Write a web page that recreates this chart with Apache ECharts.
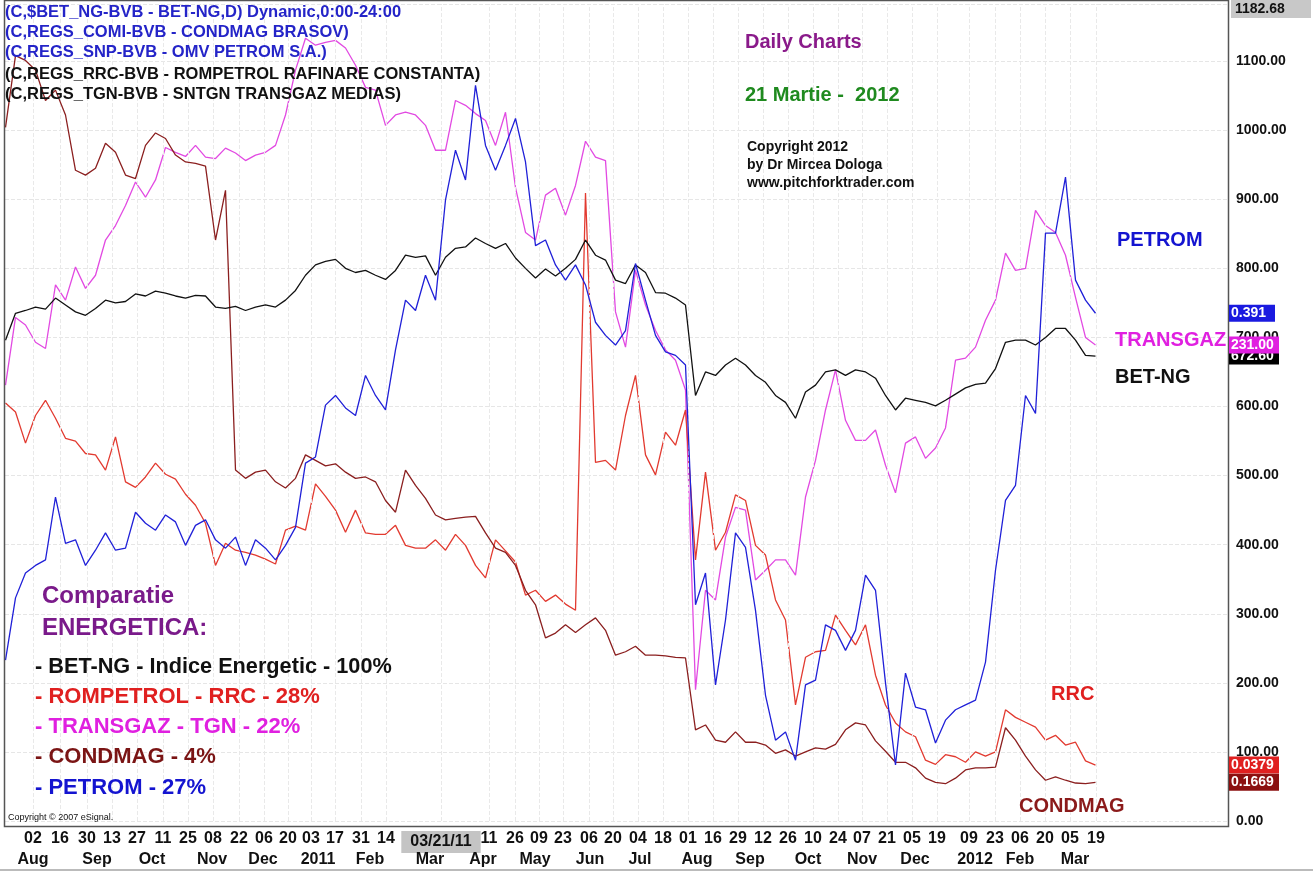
<!DOCTYPE html>
<html><head><meta charset="utf-8">
<script src="https://cdn.jsdelivr.net/npm/echarts@6/dist/echarts.min.js"></script>
<style>html,body{margin:0;padding:0;background:#fff;}#c{width:1313px;height:872px;}</style>
</head><body><div id="c"></div>
<script>
// trading-day index of first sample and spacing (trading days); index 0 = 02 Aug 2010
const T_START = -11, T_STEP = 4;

const betNG = [
696,735,739,744,741,757,747,737,732,742,
754,750,752,763,760,767,764,760,757,761,
760,744,742,745,739,744,747,744,754,768,
790,805,810,813,800,794,797,790,784,797,
819,816,818,790,816,829,831,844,836,829,
836,815,800,786,799,789,800,813,841,819,
812,783,778,805,794,765,764,757,747,616,
650,645,660,670,660,645,635,616,606,583,
621,631,650,653,645,653,650,641,616,595,
612,609,606,601,609,618,627,632,634,655,
693,696,696,689,700,713,713,696,674,673];

const transgaz = [
631,729,718,693,684,776,754,802,771,790,
841,862,891,925,903,928,975,968,962,978,
961,959,974,967,956,964,968,978,1022,1087,
1133,1123,1127,1130,1119,1094,1062,1058,1007,1022,
1026,1022,1007,971,971,1043,1036,1024,1014,978,
1026,917,852,841,906,916,877,920,984,961,
956,737,686,797,747,710,682,667,624,190,
334,320,411,454,450,349,363,378,378,356,
469,522,595,653,580,551,551,566,515,475,
547,556,525,540,569,667,670,686,725,754,
822,797,800,884,862,852,819,758,700,689];

const condmag = [
1004,1108,1101,1087,1043,1058,1022,942,935,945,
981,968,935,930,978,996,988,964,954,952,
948,841,913,508,496,505,508,491,482,496,
530,522,514,517,505,496,498,491,464,447,
508,486,467,443,436,438,440,441,417,395,
389,370,334,313,265,272,284,273,284,294,
276,240,245,253,240,240,239,237,236,132,
139,117,114,129,114,114,110,98,103,94,
100,106,104,111,132,142,139,116,101,85,
85,77,62,56,54,62,74,77,77,78,
135,117,94,74,59,64,59,55,54,56];

const rompetrol = [
605,592,547,587,609,583,554,550,532,530,
508,556,491,483,498,518,502,495,473,457,
431,370,402,392,389,385,379,372,421,427,
421,488,470,450,418,450,417,415,415,428,
399,395,395,407,392,415,399,370,352,407,
391,375,327,334,318,327,314,305,909,519,
522,508,587,645,530,501,563,544,595,378,
505,392,418,472,464,399,385,320,291,168,
237,245,247,298,276,255,284,211,168,142,
129,122,88,82,96,93,85,100,94,100,
161,150,143,136,117,124,110,114,87,81];

const petrom = [
233,323,359,370,378,469,402,407,370,392,
417,392,395,447,431,421,443,433,399,428,
436,407,395,411,370,407,395,378,399,425,
518,527,602,616,598,587,645,616,595,682,
754,739,790,754,899,971,928,1065,978,942,
978,1017,954,833,841,805,783,805,776,722,
703,689,710,807,754,703,679,674,660,313,
359,197,291,417,396,305,182,117,129,88,
197,204,284,276,247,276,356,334,200,81,
214,165,161,113,146,161,168,175,230,363,
464,486,616,590,851,851,932,783,754,735];

// x-axis tick positions (trading-day index) and labels
const dayTicks = [0,10.8,21.6,31.6,41.6,52,62,72,82.4,92.4,102,111.2,120.8,131.2,141.2,163.2,
  182.4,192.8,202.4,212,222.4,232,242,252,262,272,282,292,302,312,322,331.6,341.6,351.6,361.6,
  374.4,384.8,394.8,404.8,414.8,425.2];
const dayLabels = ['02','16','30','13','27','11','25','08','22','06','20','03','17','31','14','03/21/11',
  '11','26','09','23','06','20','04','18','01','16','29','12','26','10','24','07','21','05','19',
  '09','23','06','20','05','19'];
const monthTicks = [0,25.6,47.6,71.6,92,114,134.8,158.8,180,200.8,222.8,242.8,265.6,286.8,310,331.6,352.8,376.8,394.8,416.8];
const monthLabels = ['Aug','Sep','Oct','Nov','Dec','2011','Feb','Mar','Apr','May','Jun','Jul','Aug','Sep','Oct','Nov','Dec','2012','Feb','Mar'];

// last-price tags (text shown on the right axis)
const tags = [
  {name:'BET-NG', text:'672.60', bg:'#000000'},
  {name:'TRANSGAZ', text:'231.00', bg:'#e020e0'},
  {name:'PETROM', text:'0.391', bg:'#1a1ae0'},
  {name:'RRC', text:'0.0379', bg:'#e02020'},
  {name:'CONDMAG', text:'0.1669', bg:'#8b1010'}
];
const Y_MAX = 1182.68;

const FF = '"Liberation Sans", Arial, sans-serif';
const X_MIN = -11.2, X_MAX = 478;
const toData = arr => arr.map((v,k)=>[T_START + k*T_STEP, v]);
const seriesDefs = [
  {name:'TRANSGAZ', data:transgaz, color:'#e24ae2'},
  {name:'RRC', data:rompetrol, color:'#e23a30'},
  {name:'CONDMAG', data:condmag, color:'#8b1f1f'},
  {name:'BET-NG', data:betNG, color:'#111111'},
  {name:'PETROM', data:petrom, color:'#2020d8'}
];

const chart = echarts.init(document.getElementById('c'));
const findIdx = (arr,v)=>arr.findIndex(t=>Math.abs(t-v)<1e-6);

chart.setOption({
  animation:false,
  backgroundColor:'#ffffff',
  grid:{left:5,right:85,top:4,bottom:51,containLabel:false},
  xAxis:[{
    type:'value', min:X_MIN, max:X_MAX, position:'bottom',
    axisLine:{show:false}, axisTick:{show:false}, splitLine:{show:false},
    axisLabel:{customValues:dayTicks, margin:10, color:'#111', fontSize:16, fontWeight:'bold', fontFamily:FF,
      formatter:v=>{const i=findIdx(dayTicks,v); if(i<0) return ''; const s=dayLabels[i]; return s.length>2?'{hl|'+s+'}':s;},
      rich:{hl:{backgroundColor:'#c4c4c4', color:'#111', fontSize:16, fontWeight:'bold', fontFamily:FF, padding:[3,9,3,9]}}}
  },{
    type:'value', min:X_MIN, max:X_MAX, position:'bottom',
    axisLine:{show:false}, axisTick:{show:false}, splitLine:{show:false},
    axisLabel:{customValues:monthTicks, margin:31, color:'#111', fontSize:16, fontWeight:'bold', fontFamily:FF,
      formatter:v=>{const i=findIdx(monthTicks,v); return i<0?'':monthLabels[i];}}
  }],
  yAxis:{type:'value', position:'right', min:0, max:Y_MAX, interval:100,
    axisLine:{show:false}, axisTick:{show:false},
    splitLine:{show:true, lineStyle:{color:'#e6e6e6', type:'dashed', width:1}},
    axisLabel:{showMaxLabel:false, margin:8, color:'#111', fontSize:14, fontWeight:'bold', fontFamily:FF,
      formatter:v=>v.toFixed(2)}},
  series: seriesDefs.map((s,i)=>({
    type:'line', name:s.name, data:toData(s.data), showSymbol:false, symbol:'none',
    lineStyle:{color:s.color, width:1.3}, itemStyle:{color:s.color}, z:3+i,
    markLine: i===0 ? {silent:true, symbol:'none', label:{show:false},
      lineStyle:{color:'#e9e9e9', type:'dashed', width:1},
      data: dayTicks.map(t=>({xAxis:t}))} : undefined
  }))
});

function txt(id,text,x,y,size,color,extra){
  return Object.assign({type:'text', id, z:50, silent:true,
    style:{text, x, y, fill:color, font:'bold '+size+'px '+FF, verticalAlign:'middle', textAlign:'left'}}, extra||{});
}
const g = [
  {type:'rect', id:'frame', z:60, silent:true, shape:{x:4.5,y:0.5,width:1224,height:826}, style:{fill:'none', stroke:'#555', lineWidth:1.5}},
  {type:'rect', id:'bottomline', z:60, silent:true, shape:{x:0,y:869,width:1313,height:2}, style:{fill:'#bbb'}},
  txt('l1','(C,$BET_NG-BVB - BET-NG,D) Dynamic,0:00-24:00',5,12,16.5,'#2424c8'),
  txt('l2','(C,REGS_COMI-BVB - CONDMAG BRASOV)',5,32,16.5,'#2424c8'),
  txt('l3','(C,REGS_SNP-BVB - OMV PETROM S.A.)',5,52,16.5,'#2424c8'),
  txt('l4','(C,REGS_RRC-BVB - ROMPETROL RAFINARE CONSTANTA)',5,74,16.5,'#111'),
  txt('l5','(C,REGS_TGN-BVB - SNTGN TRANSGAZ MEDIAS)',5,94,16.5,'#111'),
  txt('dc','Daily Charts',745,42,20,'#8a1a8a'),
  txt('dt','21 Martie -  2012',745,95,20,'#1f8a1f'),
  txt('c1','Copyright 2012',747,147,14,'#111'),
  txt('c2','by Dr Mircea Dologa',747,165,14,'#111'),
  txt('c3','www.pitchforktrader.com',747,183,14,'#111'),
  txt('n1','PETROM',1117,240,20,'#1414d0'),
  txt('n2','TRANSGAZ',1115,340,20,'#e020e0'),
  txt('n3','BET-NG',1115,377,20,'#111'),
  txt('n4','RRC',1051,694,20,'#e02020'),
  txt('n5','CONDMAG',1019,806,20,'#8b1a1a'),
  txt('cp1','Comparatie',42,596,24,'#7a1a8a'),
  txt('cp2','ENERGETICA:',42,628,24,'#7a1a8a'),
  txt('lg1','- BET-NG - Indice Energetic - 100%',35,667,21.7,'#111'),
  txt('lg2','- ROMPETROL - RRC - 28%',35,697,22,'#e02020'),
  txt('lg3','- TRANSGAZ - TGN - 22%',35,727,22,'#e020e0'),
  txt('lg4','- CONDMAG - 4%',35,757,22,'#7a1414'),
  txt('lg5','- PETROM - 27%',35,788,22,'#1414d0'),
  txt('es','Copyright \u00a9 2007 eSignal.',8,818,9,'#111',{style:{text:'Copyright \u00a9 2007 eSignal.',x:8,y:818,fill:'#111',font:'9px '+FF,verticalAlign:'middle'}}),
  {type:'rect', id:'maxbg', z:55, silent:true, shape:{x:1231,y:0,width:80,height:18}, style:{fill:'#c8c8c8'}},
  txt('maxt',Y_MAX.toFixed(2),1235,9,14,'#111',{z:56})
];
// tags placed at the last value of each series through the y scale
const lastVal = {};
seriesDefs.forEach(s=>{lastVal[s.name]=s.data[s.data.length-1];});
tags.forEach((t,i)=>{
  const y = chart.convertToPixel({yAxisIndex:0}, lastVal[t.name]);
  g.push({type:'rect', id:'tb'+i, z:70+i*2, silent:true, shape:{x:1229,y:y-8.5,width:t.text.length>5?50:46,height:17}, style:{fill:t.bg}});
  g.push({type:'text', id:'tt'+i, z:71+i*2, silent:true, style:{text:t.text, x:1231, y:y, fill:'#fff', font:'bold 14px '+FF, verticalAlign:'middle'}});
});
chart.setOption({graphic:g});
</script></body></html>
